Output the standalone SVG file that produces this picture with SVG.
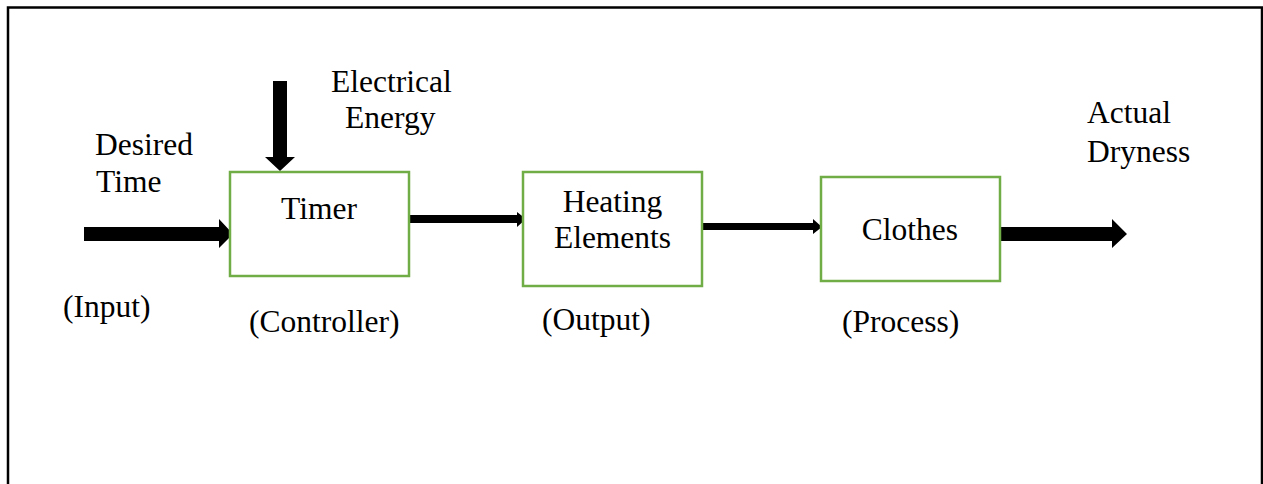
<svg xmlns="http://www.w3.org/2000/svg" width="1263" height="484" viewBox="0 0 1263 484">
<style>
.box{fill:#fff;stroke:#70ad47;stroke-width:2.5}
.t{font-family:"Liberation Serif","Times New Roman",serif;font-size:31.5px;fill:#000}
.a{fill:#000}
</style>
<rect width="1263" height="484" fill="#fff"/>
<path d="M8,484 V7.5 H1262 V484" fill="none" stroke="#000" stroke-width="2.5"/>
<g id="connectors">
<polygon class="a" points="273,81 287,81 287,157 295,157 280,171 265,157 273,157"/>
<polygon class="a" points="84,227 219,227 219,219 233,234 219,248 219,241 84,241"/>
<polygon class="a" points="409,215 517,215 517,212 526,219 517,227 517,223 409,223"/>
<polygon class="a" points="702,223 813,223 813,219 822,227 813,234 813,230 702,230"/>
<polygon class="a" points="1000,227 1112,227 1112,219 1127,234 1112,248 1112,241 1000,241"/>
</g>
<g id="timer">
<rect class="box" x="230" y="172" width="179" height="104"/>
<text class="t" x="319" y="219" text-anchor="middle">Timer</text>
</g>
<g id="heating">
<rect class="box" x="523" y="172" width="179" height="114"/>
<text class="t" x="612.5" y="212" text-anchor="middle">Heating</text>
<text class="t" x="612.5" y="248" text-anchor="middle">Elements</text>
</g>
<g id="clothes">
<rect class="box" x="821" y="177" width="179" height="104"/>
<text class="t" x="910" y="240" text-anchor="middle">Clothes</text>
</g>
<g id="labels">
<text class="t" x="331" y="92">Electrical</text>
<text class="t" x="345" y="128">Energy</text>
<text class="t" x="95" y="155">Desired</text>
<text class="t" x="96" y="192">Time</text>
<text class="t" x="1087" y="123">Actual</text>
<text class="t" x="1087" y="162">Dryness</text>
<text class="t" x="63" y="317">(Input)</text>
<text class="t" x="249" y="332">(Controller)</text>
<text class="t" x="542" y="330">(Output)</text>
<text class="t" x="842" y="332">(Process)</text>
</g>
</svg>
